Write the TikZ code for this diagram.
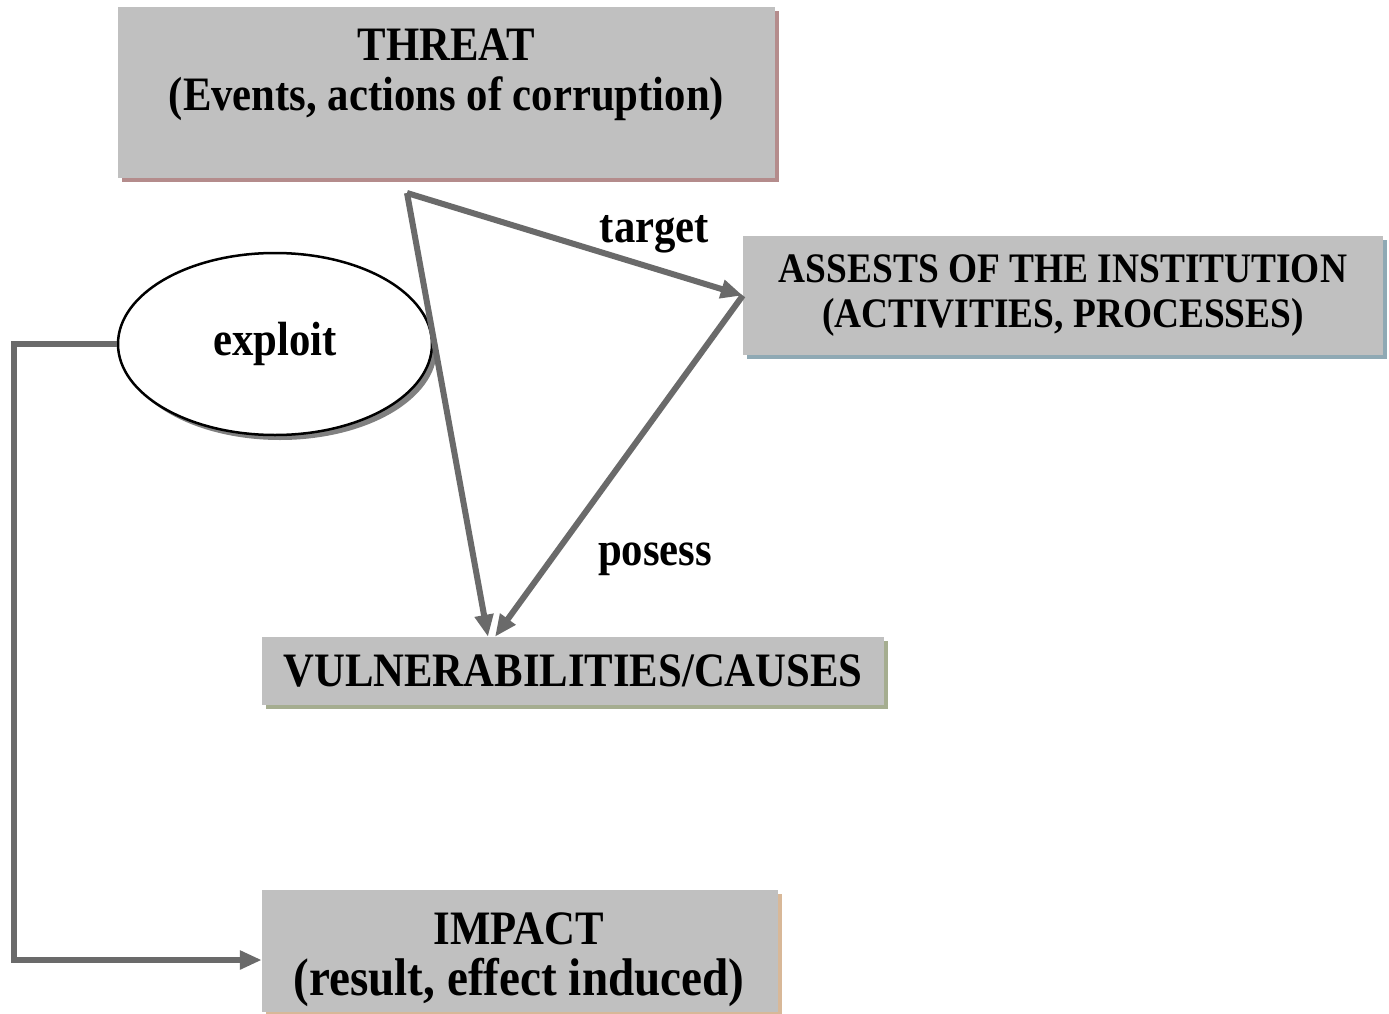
\documentclass[tikz,border=0pt]{standalone}
\usepackage{fontspec}
\setmainfont[FakeStretch=0.89]{Liberation Serif}
\usetikzlibrary{arrows.meta,shapes.geometric,shadows}
\definecolor{boxgray}{HTML}{C0C0C0}
\definecolor{linegray}{HTML}{6A6A6A}
\definecolor{shred}{HTML}{B48C8C}
\definecolor{shblue}{HTML}{8FA9B4}
\definecolor{shgreen}{HTML}{A5AD90}
\definecolor{shtan}{HTML}{D8B898}
\begin{document}
\begin{tikzpicture}[x=1pt,y=-1pt,
  box/.style={fill=boxgray, draw=none, inner sep=0pt, align=center},
  bigtext/.style={font=\fontsize{48}{50}\selectfont\bfseries, align=center, inner sep=0pt},
  midtext/.style={font=\fontsize{42}{45}\selectfont\bfseries, align=center, inner sep=0pt},
  arr/.style={draw=linegray, line width=6pt, -{Triangle[length=22pt,width=18pt]}},
  lbl/.style={font=\fontsize{48}{50}\selectfont\bfseries, inner sep=0pt}
]
\useasboundingbox (0,0) rectangle (1389,1014);
\fill[white] (0,0) rectangle (1389,1014);

% boxes
\node[box, minimum width=657pt, minimum height=171pt,
  drop shadow={shadow xshift=4pt, shadow yshift=-4pt, fill=shred, opacity=1}]
  (threat) at (446.5,92.5) {};
\node[bigtext] (threattext) at (446.5,75) {THREAT\\(Events, actions of corruption)};

\node[box, midtext, minimum width=640pt, minimum height=119pt,
  drop shadow={shadow xshift=4pt, shadow yshift=-4pt, fill=shblue, opacity=1}]
  (asset) at (1063,295.5) {ASSESTS OF THE INSTITUTION\\(ACTIVITIES, PROCESSES)};

\node[box, bigtext, minimum width=622pt, minimum height=68pt,
  drop shadow={shadow xshift=4pt, shadow yshift=-4pt, fill=shgreen, opacity=1}]
  (vuln) at (573,671) {VULNERABILITIES/CAUSES};

\node[box, minimum width=516pt, minimum height=122pt,
  drop shadow={shadow xshift=4pt, shadow yshift=-4pt, fill=shtan, opacity=1}]
  (impact) at (520,951) {};
\node[inner sep=0pt, anchor=base] (impact1) at (519,944)
  {\fontsize{48}{50}\selectfont\bfseries IMPACT};
\node[inner sep=0pt, anchor=base] (impact2) at (519,995)
  {\fontsize{53}{56}\selectfont\bfseries (result, effect induced)};

% ellipse
\node[ellipse, draw=black, line width=2.5pt, fill=white, minimum width=314pt, minimum height=182pt,
  inner sep=0pt, lbl,
  drop shadow={shadow xshift=5pt, shadow yshift=-5pt, fill=gray, opacity=1}]
  (exploit) at (275,344) {exploit};

% connectors
\coordinate (t0) at (407,193);
\draw[arr] (t0) -- node[lbl, pos=0.737, yshift=34pt] (target) {target} (asset.west);
\draw[arr] (t0) -- ([xshift=-85pt]vuln.north);
\draw[arr] (asset.west) -- node[lbl, pos=0.762, xshift=101pt, yshift=-4pt] (posess) {posess} ([xshift=-78pt]vuln.north);
\draw[arr] (exploit.west) -- ++(-103,0) |- ([yshift=-9pt]impact.west);
\end{tikzpicture}
\end{document}
